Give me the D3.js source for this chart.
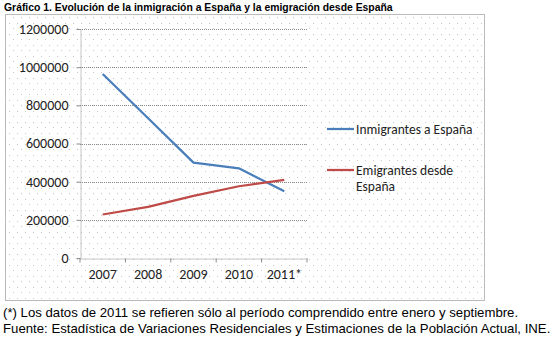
<!DOCTYPE html>
<html><head><meta charset="utf-8">
<script src="https://cdn.jsdelivr.net/npm/d3@7"></script>
<style>body{margin:0;background:#fff}svg{display:block}</style>
</head><body>
<script>
const categories = ["2007","2008","2009","2010","2011*"];
const inmigrantes = [964000, 732000, 500000, 470000, 350000];
const emigrantes = [228000, 268000, 326000, 376000, 409000];
const yTicks = [0,200000,400000,600000,800000,1000000,1200000];
const seriesNames = ["Inmigrantes a España", "Emigrantes desde España"];
const colors = ["#4a7ebb", "#be4b48"];

const W = 558, H = 345;
const svg = d3.select("body").append("svg").attr("width", W).attr("height", H);
const defs = svg.append("defs");
const pat = defs.append("pattern").attr("id","dots").attr("patternUnits","userSpaceOnUse")
  .attr("width",8).attr("height",11);
pat.append("rect").attr("x",1).attr("y",1).attr("width",1).attr("height",1).attr("fill","#c8c8c8");
pat.append("rect").attr("x",5).attr("y",6).attr("width",1).attr("height",1).attr("fill","#c8c8c8");

// title
svg.append("text").attr("x",4).attr("y",11).attr("font-family","Liberation Sans, Arial")
  .attr("font-size",10.4).attr("font-weight","bold").attr("fill","#000")
  .text("Gráfico 1. Evolución de la inmigración a España y la emigración desde España");

// chart frame
svg.append("rect").attr("x",5.5).attr("y",14.5).attr("width",479).attr("height",286)
  .attr("fill","url(#dots)").attr("stroke","#777").attr("stroke-dasharray","1,1");

const x = d3.scaleBand().domain(categories).range([80,307]);
const y = d3.scaleLinear().domain([0,1200000]).range([258,29]);

const g = svg.append("g");
g.selectAll(".grid").data(yTicks.filter(d=>d>0)).join("line")
  .attr("x1",80).attr("x2",307).attr("y1",d=>Math.round(y(d))+0.5).attr("y2",d=>Math.round(y(d))+0.5)
  .attr("stroke","#8c8c8c").attr("stroke-dasharray","1,1");

const fontC = "Carlito, Calibri, Lato, sans-serif";
const yAxis = d3.axisLeft(y).tickValues(yTicks).tickSize(0).tickPadding(12).tickFormat(d3.format("d"));
const ya = svg.append("g").attr("transform","translate(80.5,0)").call(yAxis);
ya.select(".domain").attr("stroke","#8c8c8c").attr("stroke-dasharray","1,1");
ya.selectAll("text").attr("font-family",fontC).attr("font-size",14).attr("fill","#222");
ya.selectAll(".tick").append("line").attr("x1",-4).attr("x2",0).attr("stroke","#8c8c8c");

const xAxis = d3.axisBottom(x).tickSize(0).tickPadding(11);
const xa = svg.append("g").attr("transform","translate(0,258.5)").call(xAxis);
xa.select(".domain").attr("stroke","#8c8c8c").attr("stroke-dasharray","1,1");
xa.selectAll("text").attr("font-family",fontC).attr("font-size",14).attr("fill","#222");
xa.selectAll(".xt").data(d3.range(categories.length+1)).join("line")
  .attr("x1",i=>80+i*x.step()).attr("x2",i=>80+i*x.step()).attr("y1",0).attr("y2",4).attr("stroke","#8c8c8c");

const line = d3.line().x((d,i)=>x(categories[i])+x.bandwidth()/2).y(d=>y(d));
[inmigrantes, emigrantes].forEach((s,k)=>{
  svg.append("path").datum(s).attr("d",line).attr("fill","none")
    .attr("stroke",colors[k]).attr("stroke-width",2.25).attr("stroke-linejoin","round");
});

const lg = svg.append("g").attr("font-family",fontC).attr("font-size",13.5).attr("fill","#222");
lg.append("line").attr("x1",327).attr("x2",354).attr("y1",129).attr("y2",129).attr("stroke",colors[0]).attr("stroke-width",2.25);
lg.append("text").attr("x",356).attr("y",134).text("Inmigrantes a España");
lg.append("line").attr("x1",327).attr("x2",354).attr("y1",170).attr("y2",170).attr("stroke",colors[1]).attr("stroke-width",2.25);
lg.append("text").attr("x",356).attr("y",175).text("Emigrantes desde");
lg.append("text").attr("x",356).attr("y",191).text("España");

const fn = svg.append("g").attr("font-family","Liberation Sans, Arial").attr("font-size",13.2).attr("fill","#000");
fn.append("text").attr("x",3).attr("y",317).text("(*) Los datos de 2011 se refieren sólo al período comprendido entre enero y septiembre.");
fn.append("text").attr("x",3).attr("y",333).text("Fuente: Estadística de Variaciones Residenciales y Estimaciones de la Población Actual, INE.");
</script>
</body></html>
